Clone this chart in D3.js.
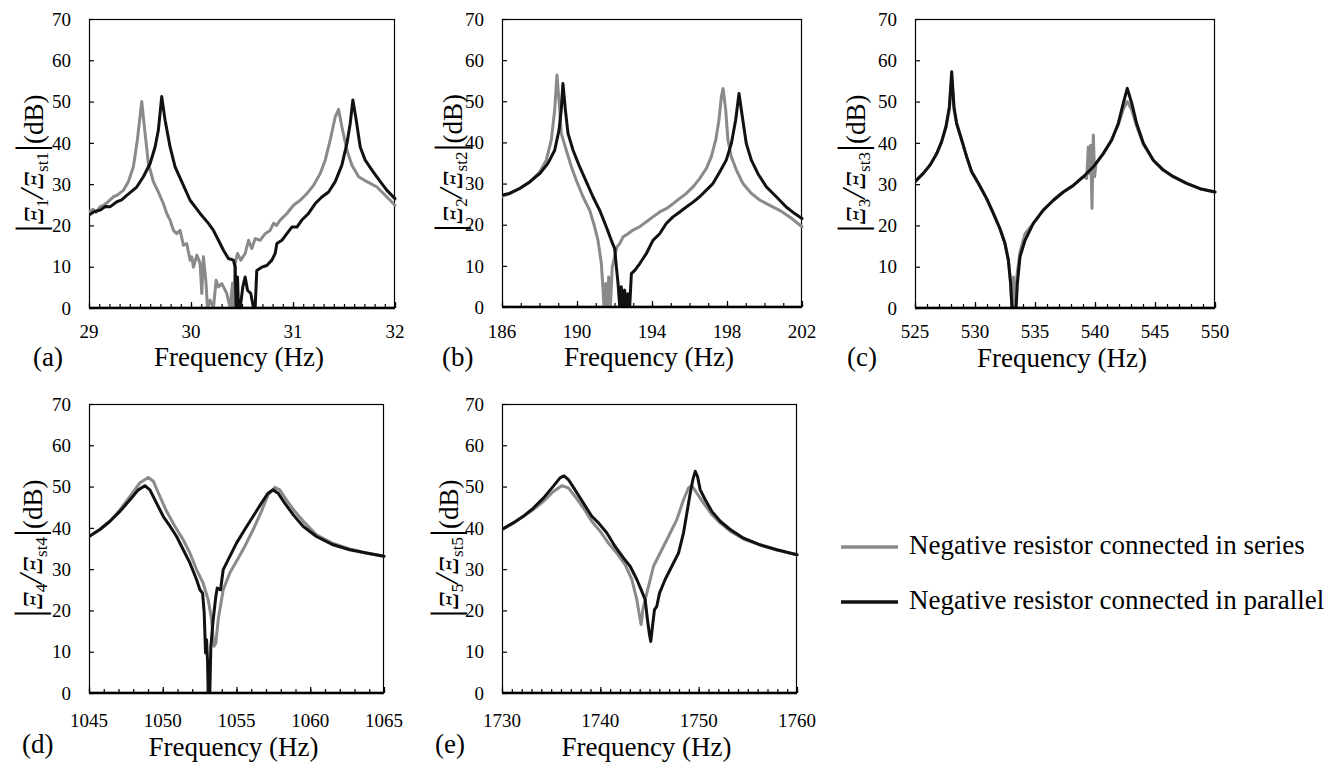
<!DOCTYPE html>
<html>
<head>
<meta charset="utf-8">
<script src="https://cdn.jsdelivr.net/npm/d3@7"></script>
<style>
  html, body { margin: 0; padding: 0; background: #fff; }
  svg { display: block; }
</style>
</head>
<body>
<svg id="chart" width="1343" height="767"></svg>
<script>
// ---------------- DATA ----------------
const yTicks = [0, 10, 20, 30, 40, 50, 60, 70];
const legendLabels = ["Negative resistor connected in series", "Negative resistor connected in parallel"];

const xTicksA = [29, 30, 31, 32];
const xTicksB = [186, 190, 194, 198, 202];
const xTicksC = [525, 530, 535, 540, 545, 550];
const xTicksD = [1045, 1050, 1055, 1060, 1065];
const xTicksE = [1730, 1740, 1750, 1760];

// panel (a): [frequency Hz, dB]
const seriesA = [
  [29.000,23.3],[29.040,23.9],[29.070,23.2],[29.108,24.5],[29.150,25.0],[29.190,25.8],[29.239,26.9],[29.280,27.4],[29.337,28.5],[29.386,30.6],[29.435,34.2],[29.474,40.7],[29.517,50.0],
  [29.550,42.3],[29.582,35.0],[29.631,30.6],[29.680,28.1],[29.729,25.3],[29.762,22.9],[29.795,21.3],[29.828,18.8],[29.860,18.0],[29.893,18.8],[29.926,15.2],[29.958,15.6],[29.991,11.6],[30.007,12.4],[30.024,9.9],[30.057,12.8],[30.089,10.8],[30.106,3.5],[30.122,12.4],[30.148,5.9],[30.161,0],[30.187,1.9],[30.220,0],[30.246,6.7],[30.269,5.1],[30.302,5.9],[30.351,3.5],[30.384,0],[30.407,6.0],[30.416,0],[30.433,10.8],[30.456,13.2],[30.488,11.6],[30.531,13.2],[30.564,16.4],[30.596,14.4],[30.629,16.8],[30.678,16.4],[30.727,18.0],[30.776,18.8],[30.809,20.5],[30.840,20.0],[30.874,21.3],[30.940,22.9],[31.005,24.9],[31.071,26.1],[31.136,27.7],[31.201,29.7],[31.267,32.6],[31.316,35.8],[31.365,40.7],[31.414,46.3],[31.447,48.1],
  [31.479,43.9],[31.529,38.2],[31.578,34.6],[31.643,31.8],[31.725,30.6],[31.823,29.3],[31.921,26.9],[32.000,24.9]
];
const seriesAPar = [
  [29.000,22.5],[29.050,23.3],[29.108,23.7],[29.160,24.6],[29.206,24.5],[29.271,25.7],[29.320,26.2],[29.370,27.3],[29.468,29.3],[29.533,31.8],[29.599,35.0],[29.648,39.0],[29.680,43.1],[29.713,51.2],
  [29.746,45.5],[29.795,39.0],[29.844,34.2],[29.909,30.6],[29.991,26.1],[30.089,22.9],[30.171,20.5],[30.220,18.8],[30.269,16.4],[30.318,14.0],[30.367,12.0],[30.416,11.6],[30.433,9.9],[30.443,0],[30.456,7.5],[30.465,0],[30.482,0],[30.508,5.1],[30.531,7.5],[30.554,4.3],[30.586,3.5],[30.613,0],[30.629,0],[30.645,9.1],[30.694,9.9],[30.743,10.3],[30.793,11.6],[30.825,13.2],[30.842,15.6],[30.891,16.4],[30.940,18.0],[30.989,19.6],[31.038,19.6],[31.087,21.3],[31.152,22.9],[31.218,25.3],[31.283,26.9],[31.349,28.1],[31.414,30.6],[31.479,34.6],[31.529,39.9],[31.561,44.7],[31.587,50.4],
  [31.620,45.5],[31.659,39.0],[31.708,35.8],[31.774,33.4],[31.856,30.6],[31.921,28.5],[32.000,26.5]
];

// panel (b)
const seriesB = [
  [186.00,26.8],[186.41,27.6],[186.94,28.8],[187.48,30.4],[188.01,32.8],[188.36,35.7],[188.63,40.6],[188.81,47.9],[188.93,56.4],
  [189.08,47.9],[189.16,42.2],[189.43,38.1],[189.70,34.1],[189.96,30.8],[190.32,26.8],[190.68,23.5],[190.94,19.5],[191.12,16.2],[191.30,10.5],[191.39,4.1],[191.44,0],[191.53,5.7],[191.60,0],[191.69,7.3],[191.78,0],[191.88,9.7],[192.01,12.2],[192.13,14.6],[192.28,15.4],[192.45,17.0],[192.72,17.8],[192.99,18.7],[193.34,19.5],[193.70,20.7],[194.05,21.9],[194.41,23.1],[194.76,23.9],[195.12,25.1],[195.48,26.4],[195.83,27.6],[196.19,29.2],[196.54,31.2],[196.90,33.7],[197.16,36.5],[197.40,40.6],[197.57,45.4],[197.70,51.1],[197.79,53.1],
  [197.93,47.9],[198.05,40.6],[198.23,36.5],[198.50,33.3],[198.85,30.0],[199.30,27.6],[199.74,26.0],[200.28,24.7],[200.81,23.5],[201.34,21.9],[202.00,19.5]
];
const seriesBPar = [
  [186.00,27.2],[186.41,27.6],[186.94,28.8],[187.48,30.4],[188.01,32.4],[188.45,34.9],[188.81,38.1],[189.04,43.0],[189.16,47.9],[189.25,54.3],
  [189.38,47.9],[189.52,42.2],[189.79,38.1],[190.14,34.1],[190.50,30.4],[190.85,26.8],[191.21,23.5],[191.56,19.5],[191.83,16.2],[192.01,14.2],[192.10,9.7],[192.19,5.7],[192.28,0],[192.36,4.9],[192.45,0],[192.54,4.1],[192.63,0],[192.72,3.2],[192.81,0],[192.90,8.1],[193.08,8.9],[193.34,10.5],[193.70,13.0],[194.05,16.2],[194.41,17.8],[194.76,20.3],[195.12,21.9],[195.48,23.1],[195.83,24.3],[196.19,25.5],[196.54,26.8],[196.90,28.4],[197.25,30.0],[197.61,32.8],[197.96,35.7],[198.23,39.7],[198.46,45.4],[198.64,51.9],
  [198.82,46.2],[199.03,39.7],[199.30,35.7],[199.65,32.4],[200.10,29.2],[200.63,26.8],[201.16,24.3],[201.61,22.7],[202.00,21.5]
];

// panel (c)
const seriesC = [
  [525.00,30.6],[525.69,32.6],[526.25,34.6],[526.81,37.4],[527.22,40.3],[527.58,43.9],[527.86,48.0],[528.06,55.5],
  [528.25,48.0],[528.47,44.7],[528.89,40.7],[529.31,36.6],[529.72,33.0],[530.28,30.2],[530.97,26.5],[531.53,22.9],[532.08,19.2],[532.50,15.6],[532.78,11.6],[532.97,5.9],[533.08,0],[533.20,7.5],[533.35,0],[533.50,8.0],[533.75,13.5],[534.17,18.0],[534.86,20.5],[535.69,23.7],[536.53,26.1],[537.36,28.1],[538.19,29.7],[539.03,31.8],[539.31,31.4],[539.44,39.0],[539.53,32.6],[539.64,39.4],[539.75,24.1],[539.86,41.9],[539.97,31.8],[540.08,35.0],[540.69,37.4],[541.39,40.7],[541.94,44.4],[542.36,48.2],[542.69,50.0],
  [543.06,48.0],[543.47,44.0],[544.03,39.6],[544.86,35.8],[545.69,33.4],[546.53,31.8],[547.64,30.2],[548.75,28.9],[550.00,28.1]
];
const seriesCPar = [
  [525.00,30.6],[525.69,32.6],[526.25,34.6],[526.81,37.4],[527.22,40.3],[527.58,43.9],[527.86,48.7],[528.06,57.2],
  [528.25,48.7],[528.47,44.7],[528.89,40.7],[529.31,36.6],[529.72,33.0],[530.28,30.2],[530.97,26.5],[531.53,22.9],[532.08,19.2],[532.50,15.6],[532.78,11.6],[532.97,5.9],[533.08,0],[533.42,0],[533.53,5.9],[533.75,12.4],[534.17,16.4],[534.86,20.5],[535.69,23.7],[536.53,26.1],[537.36,28.1],[538.19,29.7],[539.03,31.8],[539.86,34.2],[540.69,37.4],[541.39,40.7],[541.94,44.7],[542.36,49.6],[542.69,53.2],
  [543.06,49.6],[543.47,44.7],[544.03,39.9],[544.86,35.8],[545.69,33.4],[546.53,31.8],[547.64,30.2],[548.75,28.9],[550.00,28.1]
];

// panel (d)
const seriesD = [
  [1045.00,37.9],[1045.74,39.6],[1046.42,41.6],[1047.10,44.4],[1047.78,47.6],[1048.45,50.9],[1049.02,52.2],
  [1049.36,51.3],[1049.81,47.6],[1050.26,44.0],[1050.82,40.4],[1051.39,37.1],[1051.84,33.9],[1052.29,29.9],[1052.74,26.6],[1053.08,22.6],[1053.31,17.8],[1053.47,11.3],[1053.60,12.1],[1053.76,17.8],[1054.10,25.0],[1054.55,29.1],[1055.00,31.9],[1055.56,35.5],[1056.13,39.6],[1056.69,44.0],[1057.14,48.0],[1057.60,49.8],
  [1057.93,49.2],[1058.38,46.8],[1058.95,44.0],[1059.63,41.2],[1060.42,38.3],[1061.55,36.2],[1062.67,34.9],[1063.80,33.9],[1065.00,33.1]
];
const seriesDPar = [
  [1045.00,37.9],[1045.74,39.6],[1046.42,41.6],[1047.10,44.0],[1047.78,46.8],[1048.34,49.2],[1048.79,50.2],
  [1049.13,49.2],[1049.58,46.0],[1050.03,42.8],[1050.49,40.4],[1050.94,37.9],[1051.39,34.7],[1051.84,31.5],[1052.29,27.5],[1052.52,25.0],[1052.70,24.2],[1052.81,19.4],[1052.90,9.7],[1052.97,12.9],[1053.04,7.3],[1053.08,0],[1053.19,0],[1053.26,11.3],[1053.42,17.8],[1053.60,23.4],[1053.69,25.4],[1053.92,25.0],[1054.10,29.9],[1054.55,33.1],[1055.00,36.3],[1055.56,39.6],[1056.13,42.8],[1056.69,46.0],[1057.14,48.4],[1057.48,49.2],
  [1057.82,48.4],[1058.27,46.0],[1058.84,43.2],[1059.51,40.4],[1060.42,37.9],[1061.55,35.9],[1062.67,34.7],[1063.80,33.9],[1065.00,33.1]
];

// panel (e)
const seriesE = [
  [1730.00,39.6],[1731.15,41.2],[1732.17,42.8],[1733.19,44.4],[1734.21,46.4],[1735.23,48.8],[1736.08,50.2],
  [1736.75,49.7],[1737.43,47.6],[1738.28,44.8],[1739.13,41.6],[1739.98,39.2],[1740.82,36.3],[1741.67,33.9],[1742.52,31.1],[1743.20,27.5],[1743.71,22.6],[1744.05,17.8],[1744.15,16.6],[1744.32,20.2],[1744.56,22.6],[1744.90,25.8],[1745.41,30.7],[1746.08,33.9],[1746.93,37.9],[1747.78,42.0],[1748.46,46.8],[1748.97,49.7],[1749.31,50.2],
  [1749.82,48.4],[1750.50,46.0],[1751.34,43.2],[1752.19,41.2],[1753.21,39.2],[1754.57,37.3],[1756.26,35.8],[1757.96,34.6],[1760.00,33.5]
];
const seriesEPar = [
  [1730.00,39.6],[1731.15,41.2],[1732.17,42.8],[1733.19,44.8],[1734.21,47.2],[1735.23,50.1],[1735.90,52.1],[1736.31,52.6],
  [1736.75,51.7],[1737.43,49.2],[1738.28,46.0],[1739.13,42.8],[1739.81,41.2],[1740.65,38.8],[1741.50,35.5],[1742.35,32.7],[1743.03,30.7],[1743.71,27.5],[1744.22,24.6],[1744.56,22.6],[1744.79,17.8],[1745.00,14.1],[1745.13,12.5],[1745.30,16.1],[1745.51,20.2],[1745.74,21.0],[1746.02,24.2],[1746.59,27.5],[1747.27,30.7],[1747.95,33.9],[1748.46,38.8],[1748.80,43.6],[1749.14,48.4],[1749.41,51.7],[1749.65,53.7],
  [1749.88,52.5],[1750.16,49.2],[1750.67,46.8],[1751.34,44.0],[1752.19,41.6],[1753.21,39.6],[1754.57,37.5],[1756.26,35.9],[1757.96,34.7],[1760.00,33.5]
];

// ---------------- LAYOUT ----------------
const FONT = "'Liberation Serif', Tinos, 'Times New Roman', 'DejaVu Serif', serif";
const GRAY = "#8a8a8a", BLACK = "#111111";
const panels = [
  { letter: "(a)", sub: "1", ticks: xTicksA, minor: 0.1, series: [seriesA, seriesAPar],
    box: { l: 89, r: 395, t: 19, b: 308 }, tickBase: 338, titleBase: 366, letterPos: [33, 366], ylabX: 43 },
  { letter: "(b)", sub: "2", ticks: xTicksB, minor: 1, series: [seriesB, seriesBPar],
    box: { l: 502, r: 802, t: 19, b: 307 }, tickBase: 338, titleBase: 366, letterPos: [442, 366], ylabX: 462 },
  { letter: "(c)", sub: "3", ticks: xTicksC, minor: 1, series: [seriesC, seriesCPar],
    box: { l: 915, r: 1215, t: 19, b: 308 }, tickBase: 338, titleBase: 367, letterPos: [847, 366], ylabX: 865 },
  { letter: "(d)", sub: "4", ticks: xTicksD, minor: 1, series: [seriesD, seriesDPar],
    box: { l: 89, r: 384, t: 404, b: 693 }, tickBase: 727, titleBase: 756, letterPos: [22, 753], ylabX: 42 },
  { letter: "(e)", sub: "5", ticks: xTicksE, minor: 1, series: [seriesE, seriesEPar],
    box: { l: 502, r: 797, t: 404, b: 693 }, tickBase: 727, titleBase: 756, letterPos: [435, 753], ylabX: 458 }
];

const svg = d3.select("#chart");

panels.forEach((p, i) => {
  const { l, r, t, b } = p.box;
  const x = d3.scaleLinear().domain([p.ticks[0], p.ticks[p.ticks.length - 1]]).range([l, r]);
  const y = d3.scaleLinear().domain([0, 70]).range([b, t]);
  const g = svg.append("g");

  const clipId = "clip" + i;
  g.append("clipPath").attr("id", clipId).append("rect")
    .attr("x", l).attr("y", t - 2).attr("width", r - l + 2).attr("height", b - t + 2);

  // frame
  g.append("rect").attr("x", l + 0.5).attr("y", t + 0.5).attr("width", r - l - 1).attr("height", b - t - 1)
    .attr("fill", "none").attr("stroke", "#000").attr("stroke-width", 1.2);

  // y axis (inward ticks)
  const yAxis = d3.axisRight(y).tickValues(yTicks).tickSize(5).tickFormat("");
  g.append("g").attr("transform", `translate(${l},0)`).call(yAxis)
    .call(s => s.select(".domain").remove())
    .call(s => s.selectAll("line").attr("stroke", "#000").attr("stroke-width", 1.2));
  g.selectAll(".ylab").data(yTicks).enter().append("text")
    .attr("x", l - 18).attr("y", d => y(d)).attr("dy", "0.35em")
    .attr("text-anchor", "end").attr("font-family", FONT).attr("font-size", 19).text(d => d);

  // x axis minor ticks (inward)
  const d0 = p.ticks[0], d1 = p.ticks[p.ticks.length - 1];
  const n = Math.round((d1 - d0) / p.minor);
  const minorVals = d3.range(0, n + 1).map(k => d0 + k * p.minor);
  const xAxisMinor = d3.axisTop(x).tickValues(minorVals).tickSize(4).tickFormat("");
  g.append("g").attr("transform", `translate(0,${b})`).call(xAxisMinor)
    .call(s => s.select(".domain").remove())
    .call(s => s.selectAll("line").attr("stroke", "#000").attr("stroke-width", 1.2));
  const xAxisMajor = d3.axisTop(x).tickValues(p.ticks).tickSize(6).tickFormat("");
  g.append("g").attr("transform", `translate(0,${b})`).call(xAxisMajor)
    .call(s => s.select(".domain").remove())
    .call(s => s.selectAll("line").attr("stroke", "#000").attr("stroke-width", 1.2));

  g.selectAll(".xlab").data(p.ticks).enter().append("text")
    .attr("x", d => x(d)).attr("y", p.tickBase)
    .attr("text-anchor", "middle").attr("font-family", FONT).attr("font-size", 19).text(d => d);

  // curves
  const line = d3.line().x(d => x(d[0])).y(d => y(d[1]));
  p.series.forEach((s, k) => {
    g.append("path").datum(s).attr("d", line)
      .attr("clip-path", `url(#${clipId})`)
      .attr("fill", "none").attr("stroke", k === 0 ? GRAY : BLACK)
      .attr("stroke-width", 3).attr("stroke-linejoin", "round").attr("stroke-linecap", "round");
  });

  // thick bottom axis line
  g.append("line").attr("x1", l).attr("x2", r).attr("y1", b).attr("y2", b)
    .attr("stroke", "#000").attr("stroke-width", 2.4);

  // x title
  g.append("text").attr("x", (l + r) / 2 - 3).attr("y", p.titleBase)
    .attr("text-anchor", "middle").attr("font-family", FONT).attr("font-size", 27).text("Frequency (Hz)");
  // panel letter
  g.append("text").attr("x", p.letterPos[0]).attr("y", p.letterPos[1])
    .attr("font-family", FONT).attr("font-size", 27).text(p.letter);

  // y label
  const yl = g.append("text")
    .attr("transform", `translate(${p.ylabX},${(t + b) / 2}) rotate(-90)`)
    .attr("text-anchor", "middle").attr("font-family", FONT).attr("font-size", 27);
  yl.append("tspan").attr("font-size", 40).text("|");
  yl.append("tspan").attr("font-style", "italic").text("Ξ");
  yl.append("tspan").attr("font-size", 17).attr("dy", 5).text(p.sub);
  yl.append("tspan").attr("font-size", 34).attr("font-style", "italic").attr("dy", -5).text("/");
  yl.append("tspan").attr("font-style", "italic").text("Ξ");
  yl.append("tspan").attr("font-size", 17).attr("dy", 5).text("st" + p.sub);
  yl.append("tspan").attr("font-size", 40).attr("dy", -5).text("|");
  yl.append("tspan").text("(dB)");
});

// legend
const legendY = [547, 602];
const legendColors = [GRAY, BLACK];
const lg = svg.append("g");
legendLabels.forEach((lab, i) => {
  lg.append("line").attr("x1", 841).attr("x2", 898).attr("y1", legendY[i]).attr("y2", legendY[i])
    .attr("stroke", legendColors[i]).attr("stroke-width", 3.5);
  lg.append("text").attr("x", 909).attr("y", legendY[i] + 7)
    .attr("font-family", FONT).attr("font-size", 27).text(lab);
});
</script>
</body>
</html>
